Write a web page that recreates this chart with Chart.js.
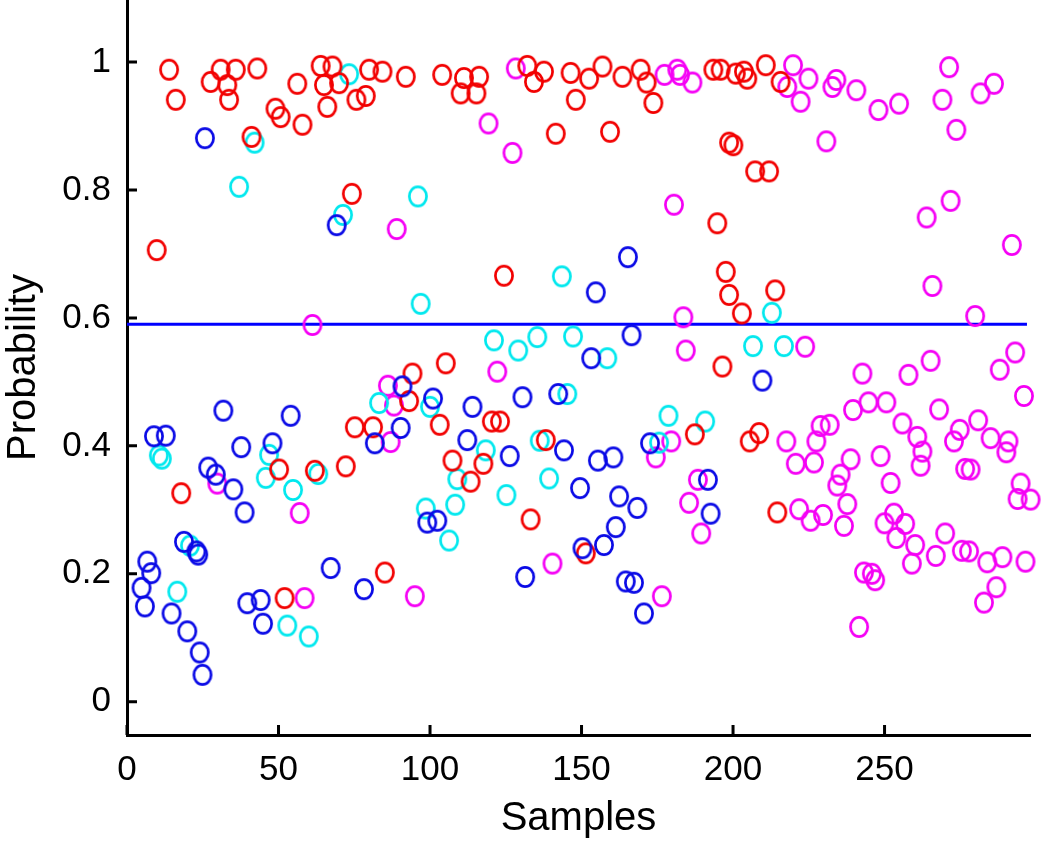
<!DOCTYPE html>
<html>
<head>
<meta charset="utf-8">
<script src="https://cdn.jsdelivr.net/npm/chart.js@4.4.1/dist/chart.umd.min.js"></script>
<style>
  html, body { margin: 0; padding: 0; background: #fff; }
  canvas { display: block; }
</style>
</head>
<body>
<canvas id="probChart" width="1050" height="843"></canvas>
<script>
// Class probabilities, [sample, probability]
const redPoints = [
    [9.8, 0.706], [13.9, 0.988], [16.1, 0.941], [17.9, 0.326], [27.6, 0.969], [30.9, 0.988],
    [33.1, 0.964], [33.7, 0.941], [35.9, 0.988], [41.1, 0.883], [43.0, 0.990], [49.0, 0.927],
    [50.2, 0.363], [50.7, 0.914], [52.0, 0.162], [56.2, 0.966], [57.9, 0.902], [62.0, 0.361],
    [63.9, 0.994], [65.0, 0.964], [66.1, 0.930], [67.8, 0.993], [70.0, 0.967], [72.2, 0.368],
    [74.2, 0.794], [75.2, 0.429], [75.7, 0.941], [78.8, 0.947], [79.9, 0.988], [81.2, 0.429],
    [84.3, 0.985], [85.1, 0.202], [92.0, 0.977], [93.1, 0.470], [94.2, 0.513], [103.2, 0.433],
    [104.0, 0.980], [105.2, 0.529], [107.4, 0.377], [110.1, 0.951], [111.2, 0.975], [113.4, 0.344],
    [115.3, 0.951], [116.2, 0.977], [117.6, 0.372], [120.4, 0.438], [123.1, 0.438], [124.4, 0.666],
    [132.1, 0.994], [133.2, 0.285], [134.3, 0.969], [137.6, 0.985], [138.2, 0.409], [141.5, 0.888],
    [146.4, 0.983], [148.1, 0.941], [151.4, 0.232], [152.5, 0.974], [156.9, 0.993], [159.4, 0.891],
    [163.5, 0.977], [169.5, 0.988], [171.5, 0.968], [173.7, 0.936], [187.4, 0.418], [193.5, 0.988],
    [194.8, 0.748], [195.9, 0.988], [196.5, 0.524], [197.6, 0.672], [198.7, 0.874], [198.7, 0.636],
    [200.1, 0.870], [200.9, 0.982], [202.9, 0.607], [203.6, 0.985], [204.7, 0.974], [205.5, 0.407],
    [207.3, 0.829], [208.6, 0.420], [210.8, 0.995], [211.9, 0.829], [213.9, 0.643], [214.6, 0.296],
    [215.7, 0.969]
];
const bluePoints = [
    [4.8, 0.178], [5.9, 0.149], [6.7, 0.219], [8.0, 0.201], [8.9, 0.415], [12.8, 0.416],
    [14.7, 0.138], [18.8, 0.250], [19.9, 0.110], [22.9, 0.235], [23.5, 0.230], [24.0, 0.077],
    [24.9, 0.042], [25.7, 0.881], [26.8, 0.366], [29.3, 0.355], [31.8, 0.455], [35.1, 0.332],
    [37.7, 0.398], [38.8, 0.296], [39.7, 0.154], [44.1, 0.159], [44.9, 0.122], [48.0, 0.404],
    [54.0, 0.447], [67.2, 0.209], [69.2, 0.745], [78.2, 0.176], [81.8, 0.404], [90.3, 0.428],
    [90.9, 0.493], [99.1, 0.280], [101.0, 0.474], [102.4, 0.283], [112.3, 0.409], [114.0, 0.461],
    [126.3, 0.384], [130.5, 0.476], [131.4, 0.195], [142.3, 0.481], [144.2, 0.393], [149.5, 0.334],
    [150.3, 0.240], [153.2, 0.537], [154.7, 0.640], [155.4, 0.377], [157.4, 0.245], [160.5, 0.382],
    [161.3, 0.273], [162.4, 0.321], [164.6, 0.188], [165.3, 0.695], [166.5, 0.573], [167.3, 0.186],
    [168.4, 0.303], [170.6, 0.138], [172.6, 0.404], [191.7, 0.347], [192.6, 0.294], [209.7, 0.502]
];
const cyanPoints = [
    [10.5, 0.385], [11.5, 0.380], [16.6, 0.172], [20.8, 0.244], [37.0, 0.805], [42.1, 0.874],
    [45.8, 0.350], [46.9, 0.386], [52.9, 0.119], [54.8, 0.331], [60.0, 0.102], [63.1, 0.356],
    [71.3, 0.761], [73.3, 0.981], [83.2, 0.467], [96.0, 0.790], [96.9, 0.622], [98.6, 0.302],
    [100.0, 0.461], [106.3, 0.252], [108.3, 0.308], [109.0, 0.348], [118.4, 0.393], [121.1, 0.565],
    [125.2, 0.323], [129.1, 0.549], [135.4, 0.570], [136.2, 0.408], [139.3, 0.349], [143.5, 0.665],
    [145.3, 0.481], [147.2, 0.571], [158.5, 0.537], [175.6, 0.405], [178.7, 0.447], [190.8, 0.438],
    [206.6, 0.556], [212.8, 0.608], [216.8, 0.556]
];
const magentaPoints = [
    [29.8, 0.341], [57.0, 0.295], [58.6, 0.162], [61.2, 0.589], [86.1, 0.494], [87.0, 0.406],
    [88.1, 0.463], [89.0, 0.739], [95.0, 0.165], [119.3, 0.904], [122.2, 0.516], [127.2, 0.858],
    [128.3, 0.990], [140.4, 0.216], [174.5, 0.382], [176.5, 0.165], [177.4, 0.980], [179.6, 0.407],
    [180.5, 0.777], [181.6, 0.988], [182.5, 0.980], [183.6, 0.601], [184.4, 0.549], [185.5, 0.311],
    [186.6, 0.968], [188.4, 0.347], [189.5, 0.263], [217.6, 0.407], [217.9, 0.961], [219.8, 0.995],
    [220.7, 0.372], [221.8, 0.301], [222.3, 0.938], [223.8, 0.555], [224.9, 0.974], [225.6, 0.283],
    [226.7, 0.374], [227.5, 0.407], [228.9, 0.431], [229.7, 0.292], [230.8, 0.876], [231.9, 0.433],
    [232.8, 0.961], [234.1, 0.972], [234.4, 0.338], [235.5, 0.355], [236.6, 0.275], [237.7, 0.309],
    [238.8, 0.379], [239.6, 0.456], [240.7, 0.956], [241.6, 0.117], [242.7, 0.513], [243.2, 0.202],
    [244.7, 0.468], [245.8, 0.200], [246.9, 0.190], [248.0, 0.925], [248.7, 0.384], [250.0, 0.279],
    [250.6, 0.468], [252.0, 0.342], [253.1, 0.294], [253.9, 0.256], [254.8, 0.935], [255.9, 0.435],
    [256.8, 0.278], [257.9, 0.511], [259.0, 0.216], [260.1, 0.245], [260.8, 0.414], [261.9, 0.369],
    [262.5, 0.391], [263.9, 0.757], [265.2, 0.533], [265.8, 0.650], [266.9, 0.228], [268.0, 0.457],
    [269.1, 0.941], [270.0, 0.263], [271.3, 0.992], [271.8, 0.783], [272.9, 0.407], [273.7, 0.894],
    [274.8, 0.425], [275.5, 0.236], [276.6, 0.364], [277.9, 0.235], [278.4, 0.363], [279.9, 0.603],
    [280.9, 0.440], [281.7, 0.951], [282.8, 0.155], [283.9, 0.218], [285.0, 0.412], [286.1, 0.966],
    [286.9, 0.179], [288.0, 0.519], [288.9, 0.226], [290.2, 0.390], [290.9, 0.407], [292.0, 0.714],
    [293.1, 0.546], [293.9, 0.317], [294.9, 0.341], [296.0, 0.478], [296.5, 0.219], [298.2, 0.316],
    [298.8, 0.238], [299.9, 0.285]
];

const threshold = 0.59;
const lastSample = 297;
const xTicks = [0, 50, 100, 150, 200, 250];
const yTicks = [0, 0.2, 0.4, 0.6, 0.8, 1];

// open "o" marker, a touch taller than wide like the original
function ringMarker(color) {
    const c = document.createElement('canvas');
    c.width = 22;
    c.height = 24;
    const g = c.getContext('2d');
    g.strokeStyle = color;
    g.lineWidth = 2.7;
    g.beginPath();
    g.ellipse(11, 12, 8.6, 9.7, 0, 0, Math.PI * 2);
    g.stroke();
    return c;
}

function toXY(list) {
    return list.map(p => ({ x: p[0], y: p[1] }));
}

function markerSet(list, color) {
    return {
        data: toXY(list),
        pointStyle: ringMarker(color),
        pointRadius: 10,
        borderColor: color,
        showLine: false,
        clip: false
    };
}

// MATLAB-style ticks pointing into the plot
const inwardTicks = {
    id: 'inwardTicks',
    afterDraw(chart) {
        const { ctx, chartArea, scales } = chart;
        ctx.save();
        ctx.strokeStyle = '#000';
        ctx.lineWidth = 3;
        ctx.beginPath();
        xTicks.forEach(v => {
            const px = scales.x.getPixelForValue(v);
            ctx.moveTo(px, chartArea.bottom);
            ctx.lineTo(px, chartArea.bottom - 10);
        });
        yTicks.forEach(v => {
            const py = scales.y.getPixelForValue(v);
            ctx.moveTo(chartArea.left, py);
            ctx.lineTo(chartArea.left + 10, py);
        });
        ctx.stroke();
        ctx.restore();
    }
};

const labelFont = { family: 'Liberation Sans, Arial, sans-serif', size: 35 };
const titleFont = { family: 'Liberation Sans, Arial, sans-serif', size: 40 };

new Chart(document.getElementById('probChart'), {
    type: 'scatter',
    data: {
        datasets: [
            {
                type: 'line',
                data: [{ x: 0, y: threshold }, { x: lastSample, y: threshold }],
                borderColor: '#0000ff',
                borderWidth: 3,
                pointRadius: 0,
                showLine: true,
                order: 5
            },
            markerSet(bluePoints, '#0a0ae6'),
            markerSet(redPoints, '#f20000'),
            markerSet(cyanPoints, '#00e8ee'),
            markerSet(magentaPoints, '#f500f5')
        ]
    },
    options: {
        responsive: false,
        animation: false,
        layout: { autoPadding: false, padding: { top: 0, right: 20, bottom: 0, left: 0 } },
        plugins: {
            legend: { display: false },
            tooltip: { enabled: false }
        },
        scales: {
            x: {
                type: 'linear',
                min: 0,
                max: 298,
                afterBuildTicks: scale => { scale.ticks = xTicks.map(v => ({ value: v })); },
                afterFit: scale => { scale.height = 108; },
                grid: { display: false, drawTicks: false },
                border: { display: true, color: '#000', width: 3 },
                ticks: { color: '#000', font: labelFont, padding: 14, maxRotation: 0 },
                title: { display: true, text: 'Samples', color: '#000', font: titleFont, padding: { top: 0, bottom: 0 } }
            },
            y: {
                type: 'linear',
                min: -0.052,
                max: 1.097,
                afterBuildTicks: scale => { scale.ticks = yTicks.map(v => ({ value: v })); },
                afterFit: scale => {
                    scale.width = 127;
                    scale.paddingTop = 0;
                    scale.paddingBottom = 0;
                },
                grid: { display: false, drawTicks: false },
                border: { display: true, color: '#000', width: 3 },
                ticks: {
                    color: '#000',
                    font: labelFont,
                    padding: 16,
                    callback: v => String(+v.toFixed(1))
                },
                title: { display: true, text: 'Probability', color: '#000', font: titleFont, padding: { top: 0, bottom: 0 } }
            }
        }
    },
    plugins: [inwardTicks]
});
</script>
</body>
</html>
